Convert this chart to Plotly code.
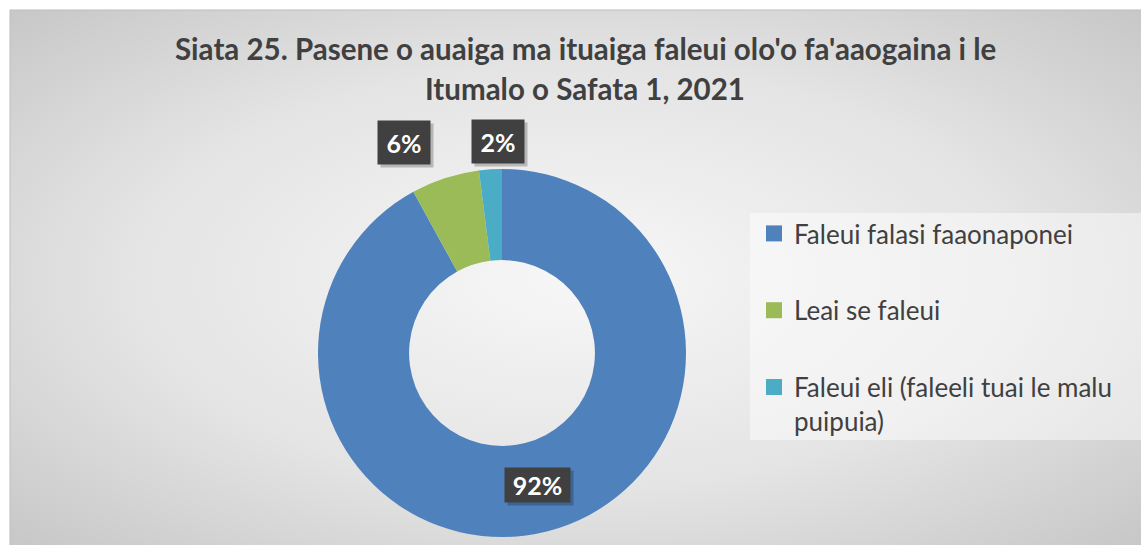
import base64
import math
import plotly.graph_objects as go

# ---------------- data ----------------
categories = [
    "Faleui falasi faaonaponei",
    "Leai se faleui",
    "Faleui eli (faleeli tuai le malu<br>puipuia)",
]
values = [92, 6, 2]
title_lines = [
    "Siata 25. Pasene o auaiga ma ituaiga faleui olo'o fa'aaogaina i le",
    "Itumalo o Safata 1, 2021",
]

# ---------------- style ----------------
colors = ["#4F81BD", "#9BBB59", "#4BACC6"]
W, H = 1141, 545
FONT = "Lato"
cx, cy, R = 502, 353, 184          # donut centre / radius in pixels
hole = 0.505
label_r = [0.74, 1.26, 1.15]       # label distance (fraction of radius)
label_nudge = [-0.6, -7.0, 2.6]    # degrees, avoids overlapping like Excel
label_box = [(63, 32), (50, 41), (50, 41)]

fig = go.Figure()

fig.add_trace(go.Pie(
    labels=categories,
    values=values,
    marker=dict(colors=colors, line=dict(width=0)),
    hole=hole,
    sort=False,
    direction="clockwise",
    rotation=0,
    textinfo="none",
    hoverinfo="label+percent",
    showlegend=False,
    domain=dict(x=[(cx - R) / W, (cx + R) / W], y=[1 - (cy + R) / H, 1 - (cy - R) / H]),
))

# legend entries (one group each so spacing can match the reference)
for name, col in zip(categories, colors):
    fig.add_trace(go.Scatter(
        x=[None], y=[None], mode="markers", name=name, legendgroup=name,
        marker=dict(symbol="square", size=16, color=col),
    ))

# ---------------- data labels ----------------
total = sum(values)
annotations = []
cum = 0.0
for i, v in enumerate(values):
    mid = (cum + v / 2) / total * 360.0
    cum += v
    ang = math.radians(mid + label_nudge[i])
    px = cx + label_r[i] * R * math.sin(ang)
    py = cy - label_r[i] * R * math.cos(ang)
    pct = round(v / total * 100)
    bw, bh = label_box[i]
    # shadow
    annotations.append(dict(
        x=px / W, y=1 - py / H, xref="paper", yref="paper", text=" ",
        xanchor="center", yanchor="middle",
        showarrow=False, width=bw, height=bh, bgcolor="rgba(0,0,0,0.22)",
        xshift=3, yshift=-3,
    ))
    annotations.append(dict(
        x=px / W, y=1 - py / H, xref="paper", yref="paper",
        xanchor="center", yanchor="middle",
        text=f"<b>{pct}%</b>", showarrow=False, width=bw, height=bh,
        bgcolor="#404040", font=dict(family=FONT, size=25, color="white"),
        align="center", valign="middle",
    ))

# title
title_y = [48, 88]
for line, ty in zip(title_lines, title_y):
    annotations.append(dict(
        x=585 / W, y=1 - ty / H, xref="paper", yref="paper",
        text=f"<b>{line}</b>", showarrow=False, xanchor="center", yanchor="middle",
        font=dict(family=FONT, size=29.5, color="#404040"),
    ))

# ---------------- background (radial gradient) ----------------
svg = (
    '<svg xmlns="http://www.w3.org/2000/svg" width="1131" height="535" preserveAspectRatio="none">'
    '<defs><radialGradient id="g" cx="50%" cy="50%" r="72%">'
    '<stop offset="0%" stop-color="#f7f7f7"/>'
    '<stop offset="55%" stop-color="#e4e4e4"/>'
    '<stop offset="100%" stop-color="#c6c6c6"/>'
    '</radialGradient></defs>'
    '<rect x="0" y="0" width="1131" height="535" fill="url(#g)"/></svg>'
)
src = "data:image/svg+xml;base64," + base64.b64encode(svg.encode()).decode()

fig.update_layout(
    width=W, height=H,
    margin=dict(l=0, r=0, t=0, b=0),
    paper_bgcolor="white",
    plot_bgcolor="rgba(0,0,0,0)",
    xaxis=dict(visible=False),
    yaxis=dict(visible=False),
    images=[dict(
        source=src, xref="paper", yref="paper", x=10 / W, y=1 - 10 / H,
        sizex=1 - 10 / W, sizey=1 - 10 / H, xanchor="left", yanchor="top",
        sizing="stretch", layer="below",
    )],
    shapes=[
        dict(type="rect", xref="paper", yref="paper",
             x0=750 / W, x1=1.0, y0=1 - 440 / H, y1=1 - 213 / H,
             fillcolor="rgba(255,255,255,0.45)", line=dict(width=0), layer="below"),
        dict(type="rect", xref="paper", yref="paper",
             x0=10 / W, x1=1.02, y0=-0.02, y1=1 - 10 / H,
             fillcolor="rgba(0,0,0,0)", line=dict(color="#bdbdbd", width=1), layer="below"),
    ],
    legend=dict(
        x=754 / W, y=1 - 210 / H, xanchor="left", yanchor="top",
        bgcolor="rgba(0,0,0,0)", font=dict(family=FONT, size=26, color="#404040"),
        tracegroupgap=40, valign="top", itemsizing="trace",
    ),
    annotations=annotations,
)

fig.write_html("out.html", config={"displayModeBar": False},
               post_script="document.body.style.margin='0';")
